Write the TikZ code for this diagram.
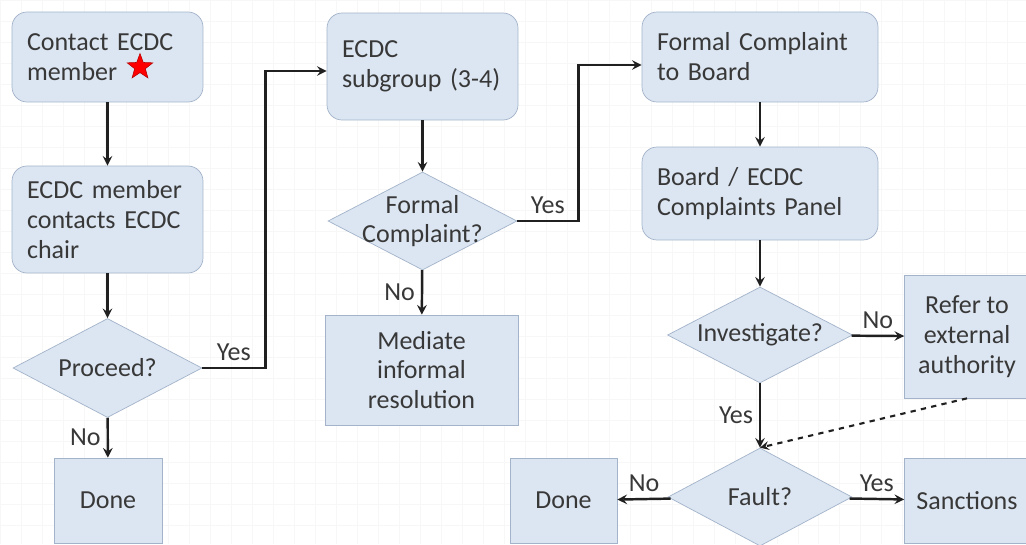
\documentclass[tikz,border=0pt]{standalone}
\usepackage{fontspec}
\setmainfont{Carlito}
\usetikzlibrary{shapes.geometric}
\definecolor{boxfill}{HTML}{DCE6F2}
\definecolor{boxline}{HTML}{A3B3CA}
\definecolor{txt}{HTML}{383838}
\definecolor{arr}{HTML}{202020}

\begin{document}
\begin{tikzpicture}[x=0.02cm,y=-0.02cm,>=stealth]
    \tikzstyle{every node}=[font=\fontsize{14.8}{17}\selectfont, text=txt]
    \tikzstyle{rbox}=[draw=boxline, fill=boxfill, rounded corners=0.3cm, align=left, inner xsep=0.3cm]
    \tikzstyle{sbox}=[draw=boxline, fill=boxfill, align=center]
    \tikzstyle{dec}=[diamond, draw=boxline, fill=boxfill, align=center, inner xsep=-0.6cm, inner ysep=-0.4cm]
    \tikzstyle{flow}=[->, draw=arr, line width=1.4pt]
    \clip (0,0) rectangle (1026,544);
    \fill[white] (0,0) rectangle (1026,544);
    \draw[gray!6, line width=0.4pt, step=0.42cm] (0,0) grid (1026,544);
    % left column
    \node[rbox, text width=3.22cm, minimum height=1.8cm] (contact) at (107.5,57) {Contact ECDC\\member};
    \node[star, star points=5, star point ratio=2.4, fill=red, draw=red!70!black, line width=0.3pt, inner sep=0pt, minimum size=0.54cm] (mark) at (140,67) {};
    \node[rbox, text width=3.22cm, minimum height=2.14cm] (chair) at (107.5,219.5) {ECDC member\\contacts ECDC\\chair};
    \node[dec, minimum width=3.78cm, minimum height=1.98cm] (proceed) at (107.5,368) {Proceed?};
    \node[sbox, minimum width=2.16cm, minimum height=1.7cm] (done1) at (108,500.5) {Done};
    % middle column
    \node[rbox, text width=3.22cm, minimum height=2.14cm] (subgroup) at (422.5,66.5) {ECDC\\subgroup (3-4)};
    \node[dec, minimum width=3.78cm, minimum height=1.96cm] (formal) at (422.5,221) {Formal\\Complaint?};
    \node[sbox, minimum width=3.86cm, minimum height=2.2cm] (mediate) at (421.5,370) {Mediate\\informal\\resolution};
    % right column
    \node[rbox, text width=4.12cm, minimum height=1.8cm] (board) at (760,57) {Formal Complaint\\to Board};
    \node[rbox, text width=4.12cm, minimum height=1.86cm] (panel) at (760,193.5) {Board / ECDC\\Complaints Panel};
    \node[dec, minimum width=3.7cm, minimum height=1.92cm] (invest) at (760,335) {Investigate?};
    \node[sbox, minimum width=2.5cm, minimum height=2.46cm] (refer) at (967,336.5) {Refer to\\external\\authority};
    \node[dec, minimum width=3.68cm, minimum height=1.96cm] (fault) at (760,497) {Fault?};
    \node[sbox, minimum width=2.14cm, minimum height=1.7cm] (done2) at (563.5,500.5) {Done};
    \node[sbox, minimum width=2.5cm, minimum height=1.7cm] (sanctions) at (967,500.5) {Sanctions};
    % connectors
    \draw[flow] (contact) -- (chair);
    \draw[flow] (chair) -- (proceed);
    \draw[flow] (proceed) -- node[left] {No} (done1);
    \draw[flow] (proceed.east) -- node[above] {Yes} ++(63,0) |- ([yshift=-0.09cm]subgroup.west);
    \draw[flow] (subgroup) -- (formal);
    \draw[flow] (formal) -- node[left] {No} (mediate);
    \draw[flow] (formal.east) -- node[above] {Yes} ++(61,0) |- ([yshift=-0.16cm]board.west);
    \draw[flow] (board) -- (panel);
    \draw[flow] (panel) -- (invest);
    \draw[flow] (invest) -- node[above] {No} (refer);
    \draw[flow] (invest) -- node[left] {Yes} (fault);
    \draw[flow, dashed, line width=1.2pt] (refer.south) -- (fault.north);
    \draw[flow] (fault) -- node[above] {No} (done2);
    \draw[flow] (fault) -- node[above] {Yes} (sanctions);
\end{tikzpicture}
\end{document}
